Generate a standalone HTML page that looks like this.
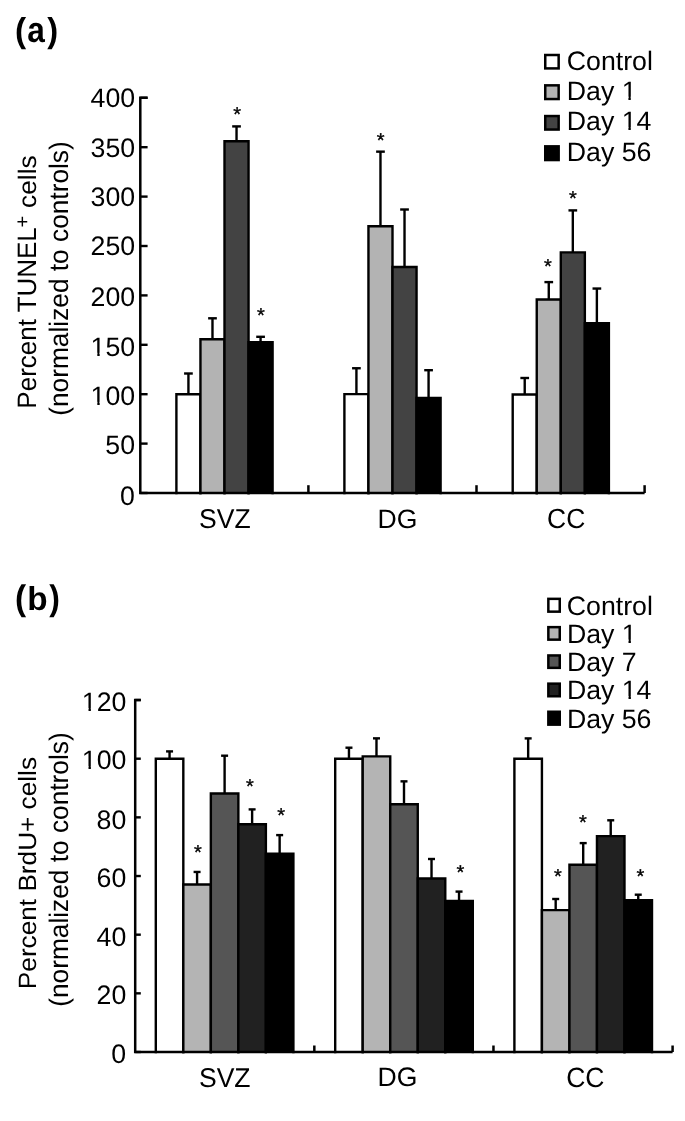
<!DOCTYPE html><html><head><meta charset="utf-8"><style>html,body{margin:0;padding:0;background:#fff;}svg{display:block;will-change:transform;}text{font-family:"Liberation Sans",sans-serif;fill:#000;text-rendering:geometricPrecision;}</style></head><body>
<svg width="685" height="1121" viewBox="0 0 685 1121">
<rect width="685" height="1121" fill="#fff"/>
<path d="M176.4 493V394.3H200.45V493" fill="#fff" stroke="#000" stroke-width="2.4" stroke-linejoin="miter" stroke-linecap="square"/>
<path d="M200.45 493V339.2H224.5V493" fill="#b3b3b3" stroke="#000" stroke-width="2.4" stroke-linejoin="miter" stroke-linecap="square"/>
<path d="M224.5 493V141.2H248.55V493" fill="#434343" stroke="#000" stroke-width="2.4" stroke-linejoin="miter" stroke-linecap="square"/>
<path d="M248.55 493V342.3H272.6V493" fill="#000" stroke="#000" stroke-width="2.4" stroke-linejoin="miter" stroke-linecap="square"/>
<path d="M344.4 493V394.15H368.45V493" fill="#fff" stroke="#000" stroke-width="2.4" stroke-linejoin="miter" stroke-linecap="square"/>
<path d="M368.45 493V226.3H392.5V493" fill="#b3b3b3" stroke="#000" stroke-width="2.4" stroke-linejoin="miter" stroke-linecap="square"/>
<path d="M392.5 493V267.05H416.55V493" fill="#434343" stroke="#000" stroke-width="2.4" stroke-linejoin="miter" stroke-linecap="square"/>
<path d="M416.55 493V398H440.6V493" fill="#000" stroke="#000" stroke-width="2.4" stroke-linejoin="miter" stroke-linecap="square"/>
<path d="M512.7 493V394.5H536.75V493" fill="#fff" stroke="#000" stroke-width="2.4" stroke-linejoin="miter" stroke-linecap="square"/>
<path d="M536.75 493V299.5H560.8V493" fill="#b3b3b3" stroke="#000" stroke-width="2.4" stroke-linejoin="miter" stroke-linecap="square"/>
<path d="M560.8 493V252.4H584.85V493" fill="#434343" stroke="#000" stroke-width="2.4" stroke-linejoin="miter" stroke-linecap="square"/>
<path d="M584.85 493V323.1H608.9V493" fill="#000" stroke="#000" stroke-width="2.4" stroke-linejoin="miter" stroke-linecap="square"/>
<line x1="188.43" y1="394.3" x2="188.43" y2="373.5" stroke="#000" stroke-width="2.4"/>
<line x1="184.08" y1="373.5" x2="192.78" y2="373.5" stroke="#000" stroke-width="2.4"/>
<line x1="212.48" y1="339.2" x2="212.48" y2="318.3" stroke="#000" stroke-width="2.4"/>
<line x1="208.13" y1="318.3" x2="216.83" y2="318.3" stroke="#000" stroke-width="2.4"/>
<line x1="236.53" y1="141.2" x2="236.53" y2="126.4" stroke="#000" stroke-width="2.4"/>
<line x1="232.18" y1="126.4" x2="240.88" y2="126.4" stroke="#000" stroke-width="2.4"/>
<line x1="260.57" y1="342.3" x2="260.57" y2="336.8" stroke="#000" stroke-width="2.4"/>
<line x1="256.22" y1="336.8" x2="264.93" y2="336.8" stroke="#000" stroke-width="2.4"/>
<line x1="356.42" y1="394.15" x2="356.42" y2="368.25" stroke="#000" stroke-width="2.4"/>
<line x1="352.07" y1="368.25" x2="360.77" y2="368.25" stroke="#000" stroke-width="2.4"/>
<line x1="380.47" y1="226.3" x2="380.47" y2="151.65" stroke="#000" stroke-width="2.4"/>
<line x1="376.12" y1="151.65" x2="384.82" y2="151.65" stroke="#000" stroke-width="2.4"/>
<line x1="404.52" y1="267.05" x2="404.52" y2="209.5" stroke="#000" stroke-width="2.4"/>
<line x1="400.17" y1="209.5" x2="408.88" y2="209.5" stroke="#000" stroke-width="2.4"/>
<line x1="428.57" y1="398" x2="428.57" y2="370.2" stroke="#000" stroke-width="2.4"/>
<line x1="424.22" y1="370.2" x2="432.93" y2="370.2" stroke="#000" stroke-width="2.4"/>
<line x1="524.72" y1="394.5" x2="524.72" y2="378" stroke="#000" stroke-width="2.4"/>
<line x1="520.37" y1="378" x2="529.07" y2="378" stroke="#000" stroke-width="2.4"/>
<line x1="548.77" y1="299.5" x2="548.77" y2="282.1" stroke="#000" stroke-width="2.4"/>
<line x1="544.42" y1="282.1" x2="553.12" y2="282.1" stroke="#000" stroke-width="2.4"/>
<line x1="572.82" y1="252.4" x2="572.82" y2="210.4" stroke="#000" stroke-width="2.4"/>
<line x1="568.47" y1="210.4" x2="577.17" y2="210.4" stroke="#000" stroke-width="2.4"/>
<line x1="596.87" y1="323.1" x2="596.87" y2="288.55" stroke="#000" stroke-width="2.4"/>
<line x1="592.52" y1="288.55" x2="601.22" y2="288.55" stroke="#000" stroke-width="2.4"/>
<path d="M147.6 97.8H140.3V493H644.6" fill="none" stroke="#000" stroke-width="2.5" stroke-linejoin="miter"/>
<line x1="140.3" y1="493" x2="147.6" y2="493" stroke="#000" stroke-width="2.4"/>
<line x1="140.3" y1="443.6" x2="147.6" y2="443.6" stroke="#000" stroke-width="2.4"/>
<line x1="140.3" y1="394.2" x2="147.6" y2="394.2" stroke="#000" stroke-width="2.4"/>
<line x1="140.3" y1="344.8" x2="147.6" y2="344.8" stroke="#000" stroke-width="2.4"/>
<line x1="140.3" y1="295.4" x2="147.6" y2="295.4" stroke="#000" stroke-width="2.4"/>
<line x1="140.3" y1="246" x2="147.6" y2="246" stroke="#000" stroke-width="2.4"/>
<line x1="140.3" y1="196.6" x2="147.6" y2="196.6" stroke="#000" stroke-width="2.4"/>
<line x1="140.3" y1="147.2" x2="147.6" y2="147.2" stroke="#000" stroke-width="2.4"/>
<line x1="140.3" y1="97.8" x2="147.6" y2="97.8" stroke="#000" stroke-width="2.4"/>
<line x1="308.4" y1="485.2" x2="308.4" y2="493" stroke="#000" stroke-width="2.5"/>
<line x1="476.5" y1="485.2" x2="476.5" y2="493" stroke="#000" stroke-width="2.5"/>
<line x1="644.6" y1="485.2" x2="644.6" y2="493" stroke="#000" stroke-width="2.5"/>
<path d="M155.8 1052V758.7H183.32V1052" fill="#fff" stroke="#000" stroke-width="2.4" stroke-linejoin="miter" stroke-linecap="square"/>
<path d="M183.32 1052V884.45H210.84V1052" fill="#b4b4b4" stroke="#000" stroke-width="2.4" stroke-linejoin="miter" stroke-linecap="square"/>
<path d="M210.84 1052V793.45H238.36V1052" fill="#555" stroke="#000" stroke-width="2.4" stroke-linejoin="miter" stroke-linecap="square"/>
<path d="M238.36 1052V824.2H265.88V1052" fill="#212121" stroke="#000" stroke-width="2.4" stroke-linejoin="miter" stroke-linecap="square"/>
<path d="M265.88 1052V853.8H293.4V1052" fill="#000" stroke="#000" stroke-width="2.4" stroke-linejoin="miter" stroke-linecap="square"/>
<path d="M335.2 1052V758.8H362.72V1052" fill="#fff" stroke="#000" stroke-width="2.4" stroke-linejoin="miter" stroke-linecap="square"/>
<path d="M362.72 1052V756.4H390.24V1052" fill="#b4b4b4" stroke="#000" stroke-width="2.4" stroke-linejoin="miter" stroke-linecap="square"/>
<path d="M390.24 1052V804.3H417.76V1052" fill="#555" stroke="#000" stroke-width="2.4" stroke-linejoin="miter" stroke-linecap="square"/>
<path d="M417.76 1052V878.45H445.28V1052" fill="#212121" stroke="#000" stroke-width="2.4" stroke-linejoin="miter" stroke-linecap="square"/>
<path d="M445.28 1052V900.9H472.8V1052" fill="#000" stroke="#000" stroke-width="2.4" stroke-linejoin="miter" stroke-linecap="square"/>
<path d="M514.4 1052V758.75H541.92V1052" fill="#fff" stroke="#000" stroke-width="2.4" stroke-linejoin="miter" stroke-linecap="square"/>
<path d="M541.92 1052V910.1H569.44V1052" fill="#b4b4b4" stroke="#000" stroke-width="2.4" stroke-linejoin="miter" stroke-linecap="square"/>
<path d="M569.44 1052V864.75H596.96V1052" fill="#555" stroke="#000" stroke-width="2.4" stroke-linejoin="miter" stroke-linecap="square"/>
<path d="M596.96 1052V836.15H624.48V1052" fill="#212121" stroke="#000" stroke-width="2.4" stroke-linejoin="miter" stroke-linecap="square"/>
<path d="M624.48 1052V900.1H652V1052" fill="#000" stroke="#000" stroke-width="2.4" stroke-linejoin="miter" stroke-linecap="square"/>
<line x1="169.56" y1="758.7" x2="169.56" y2="751.4" stroke="#000" stroke-width="2.4"/>
<line x1="166.06" y1="751.4" x2="173.06" y2="751.4" stroke="#000" stroke-width="2.4"/>
<line x1="197.08" y1="884.45" x2="197.08" y2="871.95" stroke="#000" stroke-width="2.4"/>
<line x1="193.58" y1="871.95" x2="200.58" y2="871.95" stroke="#000" stroke-width="2.4"/>
<line x1="224.6" y1="793.45" x2="224.6" y2="755.7" stroke="#000" stroke-width="2.4"/>
<line x1="221.1" y1="755.7" x2="228.1" y2="755.7" stroke="#000" stroke-width="2.4"/>
<line x1="252.12" y1="824.2" x2="252.12" y2="809.4" stroke="#000" stroke-width="2.4"/>
<line x1="248.62" y1="809.4" x2="255.62" y2="809.4" stroke="#000" stroke-width="2.4"/>
<line x1="279.64" y1="853.8" x2="279.64" y2="835.1" stroke="#000" stroke-width="2.4"/>
<line x1="276.14" y1="835.1" x2="283.14" y2="835.1" stroke="#000" stroke-width="2.4"/>
<line x1="348.96" y1="758.8" x2="348.96" y2="747.7" stroke="#000" stroke-width="2.4"/>
<line x1="345.46" y1="747.7" x2="352.46" y2="747.7" stroke="#000" stroke-width="2.4"/>
<line x1="376.48" y1="756.4" x2="376.48" y2="738.35" stroke="#000" stroke-width="2.4"/>
<line x1="372.98" y1="738.35" x2="379.98" y2="738.35" stroke="#000" stroke-width="2.4"/>
<line x1="404" y1="804.3" x2="404" y2="781.35" stroke="#000" stroke-width="2.4"/>
<line x1="400.5" y1="781.35" x2="407.5" y2="781.35" stroke="#000" stroke-width="2.4"/>
<line x1="431.52" y1="878.45" x2="431.52" y2="859" stroke="#000" stroke-width="2.4"/>
<line x1="428.02" y1="859" x2="435.02" y2="859" stroke="#000" stroke-width="2.4"/>
<line x1="459.04" y1="900.9" x2="459.04" y2="891.6" stroke="#000" stroke-width="2.4"/>
<line x1="455.54" y1="891.6" x2="462.54" y2="891.6" stroke="#000" stroke-width="2.4"/>
<line x1="528.16" y1="758.75" x2="528.16" y2="738.4" stroke="#000" stroke-width="2.4"/>
<line x1="524.66" y1="738.4" x2="531.66" y2="738.4" stroke="#000" stroke-width="2.4"/>
<line x1="555.68" y1="910.1" x2="555.68" y2="899" stroke="#000" stroke-width="2.4"/>
<line x1="552.18" y1="899" x2="559.18" y2="899" stroke="#000" stroke-width="2.4"/>
<line x1="583.2" y1="864.75" x2="583.2" y2="843.1" stroke="#000" stroke-width="2.4"/>
<line x1="579.7" y1="843.1" x2="586.7" y2="843.1" stroke="#000" stroke-width="2.4"/>
<line x1="610.72" y1="836.15" x2="610.72" y2="820.3" stroke="#000" stroke-width="2.4"/>
<line x1="607.22" y1="820.3" x2="614.22" y2="820.3" stroke="#000" stroke-width="2.4"/>
<line x1="638.24" y1="900.1" x2="638.24" y2="894.7" stroke="#000" stroke-width="2.4"/>
<line x1="634.74" y1="894.7" x2="641.74" y2="894.7" stroke="#000" stroke-width="2.4"/>
<path d="M140.8 700.04H135.2V1052H672.59" fill="none" stroke="#000" stroke-width="2.5" stroke-linejoin="miter"/>
<line x1="135.2" y1="1052" x2="140.8" y2="1052" stroke="#000" stroke-width="2.4"/>
<line x1="135.2" y1="993.34" x2="140.8" y2="993.34" stroke="#000" stroke-width="2.4"/>
<line x1="135.2" y1="934.68" x2="140.8" y2="934.68" stroke="#000" stroke-width="2.4"/>
<line x1="135.2" y1="876.02" x2="140.8" y2="876.02" stroke="#000" stroke-width="2.4"/>
<line x1="135.2" y1="817.36" x2="140.8" y2="817.36" stroke="#000" stroke-width="2.4"/>
<line x1="135.2" y1="758.7" x2="140.8" y2="758.7" stroke="#000" stroke-width="2.4"/>
<line x1="135.2" y1="700.04" x2="140.8" y2="700.04" stroke="#000" stroke-width="2.4"/>
<line x1="314.33" y1="1045.5" x2="314.33" y2="1052" stroke="#000" stroke-width="2.5"/>
<line x1="493.46" y1="1045.5" x2="493.46" y2="1052" stroke="#000" stroke-width="2.5"/>
<line x1="672.59" y1="1045.5" x2="672.59" y2="1052" stroke="#000" stroke-width="2.5"/>
<text transform="translate(14.90 42.25) scale(0.9171 0.9489)" font-size="36.5" font-weight="bold">(</text>
<text transform="translate(27.23 42.21) scale(0.8658 0.9778)" font-size="36.5" font-weight="bold">a</text>
<text transform="translate(47.20 42.25) scale(0.8952 0.9489)" font-size="36.5" font-weight="bold">)</text>
<text transform="translate(14.90 610.46) scale(0.9171 0.9723)" font-size="36.5" font-weight="bold">(</text>
<text transform="translate(27.15 610.25) scale(0.9120 0.9074)" font-size="36.5" font-weight="bold">b</text>
<text transform="translate(49.20 610.46) scale(0.8762 0.9723)" font-size="36.5" font-weight="bold">)</text>
<text transform="translate(90.60 107.20) scale(1.0000 1.0000)" font-size="26.7" font-weight="normal">400</text>
<text transform="translate(90.60 156.70) scale(1.0000 1.0000)" font-size="26.7" font-weight="normal">350</text>
<text transform="translate(90.60 205.90) scale(1.0000 1.0000)" font-size="26.7" font-weight="normal">300</text>
<text transform="translate(90.60 255.30) scale(1.0000 1.0000)" font-size="26.7" font-weight="normal">250</text>
<text transform="translate(90.60 305.70) scale(1.0000 1.0000)" font-size="26.7" font-weight="normal">200</text>
<text transform="translate(90.60 355.70) scale(1.0000 1.0000)" font-size="26.7" font-weight="normal">150</text>
<rect transform="translate(90.60 355.70) scale(1.0000 1.0000)" x="1.12" y="-3.00" width="5.59" height="4.00" fill="#fff"/>
<rect transform="translate(90.60 355.70) scale(1.0000 1.0000)" x="9.07" y="-3.00" width="5.38" height="4.00" fill="#fff"/>
<text transform="translate(90.60 404.80) scale(1.0000 1.0000)" font-size="26.7" font-weight="normal">100</text>
<rect transform="translate(90.60 404.80) scale(1.0000 1.0000)" x="1.12" y="-3.00" width="5.59" height="4.00" fill="#fff"/>
<rect transform="translate(90.60 404.80) scale(1.0000 1.0000)" x="9.07" y="-3.00" width="5.38" height="4.00" fill="#fff"/>
<text transform="translate(105.35 454.40) scale(1.0000 1.0000)" font-size="26.7" font-weight="normal">50</text>
<text transform="translate(120.10 504.70) scale(1.0000 1.0000)" font-size="26.7" font-weight="normal">0</text>
<text transform="translate(81.80 711.05) scale(1.0000 1.0000)" font-size="26.7" font-weight="normal">120</text>
<rect transform="translate(81.80 711.05) scale(1.0000 1.0000)" x="1.12" y="-3.00" width="5.59" height="4.00" fill="#fff"/>
<rect transform="translate(81.80 711.05) scale(1.0000 1.0000)" x="9.07" y="-3.00" width="5.38" height="4.00" fill="#fff"/>
<text transform="translate(81.80 769.25) scale(1.0000 1.0000)" font-size="26.7" font-weight="normal">100</text>
<rect transform="translate(81.80 769.25) scale(1.0000 1.0000)" x="1.12" y="-3.00" width="5.59" height="4.00" fill="#fff"/>
<rect transform="translate(81.80 769.25) scale(1.0000 1.0000)" x="9.07" y="-3.00" width="5.38" height="4.00" fill="#fff"/>
<text transform="translate(96.55 828.65) scale(1.0000 1.0000)" font-size="26.7" font-weight="normal">80</text>
<text transform="translate(96.55 886.55) scale(1.0000 1.0000)" font-size="26.7" font-weight="normal">60</text>
<text transform="translate(96.55 945.55) scale(1.0000 1.0000)" font-size="26.7" font-weight="normal">40</text>
<text transform="translate(96.55 1003.95) scale(1.0000 1.0000)" font-size="26.7" font-weight="normal">20</text>
<text transform="translate(111.30 1062.60) scale(1.0000 1.0000)" font-size="26.7" font-weight="normal">0</text>
<text transform="translate(199.06 527.94) scale(0.9940 1.0211)" font-size="26.7" font-weight="normal">SVZ</text>
<text transform="translate(377.61 527.75) scale(0.9959 0.9895)" font-size="26.7" font-weight="normal">DG</text>
<text transform="translate(547.06 528.24) scale(0.9903 1.0368)" font-size="26.7" font-weight="normal">CC</text>
<text transform="translate(198.96 1086.55) scale(0.9940 1.0158)" font-size="26.7" font-weight="normal">SVZ</text>
<text transform="translate(377.61 1086.45) scale(0.9959 1.0000)" font-size="26.7" font-weight="normal">DG</text>
<text transform="translate(566.16 1086.74) scale(0.9931 1.0421)" font-size="26.7" font-weight="normal">CC</text>
<text transform="translate(566.85 69.50) scale(1.0000 1.0000)" font-size="26.7" font-weight="normal">Control</text>
<text transform="translate(566.80 99.60) scale(1.0000 1.0000)" font-size="26.7" font-weight="normal">Day 1</text>
<rect transform="translate(566.80 99.60) scale(1.0000 1.0000)" x="56.02" y="-3.00" width="5.59" height="4.00" fill="#fff"/>
<rect transform="translate(566.80 99.60) scale(1.0000 1.0000)" x="63.97" y="-3.00" width="5.38" height="4.00" fill="#fff"/>
<text transform="translate(566.80 130.30) scale(1.0000 1.0000)" font-size="26.7" font-weight="normal">Day 14</text>
<rect transform="translate(566.80 130.30) scale(1.0000 1.0000)" x="56.02" y="-3.00" width="5.59" height="4.00" fill="#fff"/>
<rect transform="translate(566.80 130.30) scale(1.0000 1.0000)" x="63.97" y="-3.00" width="5.38" height="4.00" fill="#fff"/>
<text transform="translate(566.80 161.00) scale(1.0000 1.0000)" font-size="26.7" font-weight="normal">Day 56</text>
<text transform="translate(566.85 614.50) scale(1.0000 1.0000)" font-size="26.7" font-weight="normal">Control</text>
<text transform="translate(566.90 642.50) scale(1.0000 1.0000)" font-size="26.7" font-weight="normal">Day 1</text>
<rect transform="translate(566.90 642.50) scale(1.0000 1.0000)" x="56.02" y="-3.00" width="5.59" height="4.00" fill="#fff"/>
<rect transform="translate(566.90 642.50) scale(1.0000 1.0000)" x="63.97" y="-3.00" width="5.38" height="4.00" fill="#fff"/>
<text transform="translate(566.90 670.60) scale(1.0000 1.0000)" font-size="26.7" font-weight="normal">Day 7</text>
<text transform="translate(566.90 699.10) scale(1.0000 1.0000)" font-size="26.7" font-weight="normal">Day 14</text>
<rect transform="translate(566.90 699.10) scale(1.0000 1.0000)" x="56.02" y="-3.00" width="5.59" height="4.00" fill="#fff"/>
<rect transform="translate(566.90 699.10) scale(1.0000 1.0000)" x="63.97" y="-3.00" width="5.38" height="4.00" fill="#fff"/>
<text transform="translate(566.90 727.50) scale(1.0000 1.0000)" font-size="26.7" font-weight="normal">Day 56</text>
<text transform="translate(35.65 408.65) rotate(-90) scale(0.9736 0.9973)" font-size="26.7" font-weight="normal">Percent TUNEL</text>
<text transform="translate(28.96 227.38) rotate(-90) scale(1.1765 1.1765)" font-size="17" font-weight="normal">+</text>
<text transform="translate(35.66 207.88) rotate(-90) scale(0.9825 0.9468)" font-size="26.7" font-weight="normal">cells</text>
<text transform="translate(68.08 415.78) rotate(-90) scale(0.9846 1.0040)" font-size="26.7" font-weight="normal">(normalized to controls)</text>
<text transform="translate(35.67 989.16) rotate(-90) scale(0.9814 0.9367)" font-size="26.7" font-weight="normal">Percent BrdU+ cells</text>
<text transform="translate(68.08 1006.78) rotate(-90) scale(0.9842 1.0040)" font-size="26.7" font-weight="normal">(normalized to controls)</text>
<text transform="translate(233.18 120.75) scale(1.0000 1.0000)" font-size="20" font-weight="normal" stroke="#000" stroke-width="0.35" stroke-linejoin="round">*</text>
<text transform="translate(257.07 322.40) scale(1.0000 1.0000)" font-size="20" font-weight="normal" stroke="#000" stroke-width="0.35" stroke-linejoin="round">*</text>
<text transform="translate(376.73 147.15) scale(1.0000 1.0000)" font-size="20" font-weight="normal" stroke="#000" stroke-width="0.35" stroke-linejoin="round">*</text>
<text transform="translate(544.02 272.75) scale(1.0000 1.0000)" font-size="20" font-weight="normal" stroke="#000" stroke-width="0.35" stroke-linejoin="round">*</text>
<text transform="translate(569.02 204.55) scale(1.0000 1.0000)" font-size="20" font-weight="normal" stroke="#000" stroke-width="0.35" stroke-linejoin="round">*</text>
<text transform="translate(193.97 859.30) scale(1.0000 1.0000)" font-size="20" font-weight="normal" stroke="#000" stroke-width="0.35" stroke-linejoin="round">*</text>
<text transform="translate(246.12 792.85) scale(1.0000 1.0000)" font-size="20" font-weight="normal" stroke="#000" stroke-width="0.35" stroke-linejoin="round">*</text>
<text transform="translate(277.23 821.95) scale(1.0000 1.0000)" font-size="20" font-weight="normal" stroke="#000" stroke-width="0.35" stroke-linejoin="round">*</text>
<text transform="translate(456.48 878.50) scale(1.0000 1.0000)" font-size="20" font-weight="normal" stroke="#000" stroke-width="0.35" stroke-linejoin="round">*</text>
<text transform="translate(554.08 883.20) scale(1.0000 1.0000)" font-size="20" font-weight="normal" stroke="#000" stroke-width="0.35" stroke-linejoin="round">*</text>
<text transform="translate(579.12 829.45) scale(1.0000 1.0000)" font-size="20" font-weight="normal" stroke="#000" stroke-width="0.35" stroke-linejoin="round">*</text>
<text transform="translate(636.52 883.30) scale(1.0000 1.0000)" font-size="20" font-weight="normal" stroke="#000" stroke-width="0.35" stroke-linejoin="round">*</text>
<rect x="545.25" y="55" width="13.4" height="13.4" fill="#fff" stroke="#000" stroke-width="2.5"/>
<rect x="545.25" y="85.35" width="13.4" height="13.7" fill="#b3b3b3" stroke="#000" stroke-width="2.5"/>
<rect x="545.25" y="116.05" width="13.4" height="13.5" fill="#434343" stroke="#000" stroke-width="2.5"/>
<rect x="545.25" y="146.35" width="13.4" height="13.7" fill="#000" stroke="#000" stroke-width="2.5"/>
<rect x="548.35" y="598.85" width="11.4" height="12.8" fill="#fff" stroke="#000" stroke-width="2.5"/>
<rect x="548.35" y="627.15" width="11.4" height="12.5" fill="#b4b4b4" stroke="#000" stroke-width="2.5"/>
<rect x="548.35" y="655.45" width="11.4" height="12.4" fill="#555" stroke="#000" stroke-width="2.5"/>
<rect x="548.35" y="683.65" width="11.4" height="12.6" fill="#212121" stroke="#000" stroke-width="2.5"/>
<rect x="548.35" y="711.75" width="11.4" height="12.9" fill="#000" stroke="#000" stroke-width="2.5"/>
</svg></body></html>
